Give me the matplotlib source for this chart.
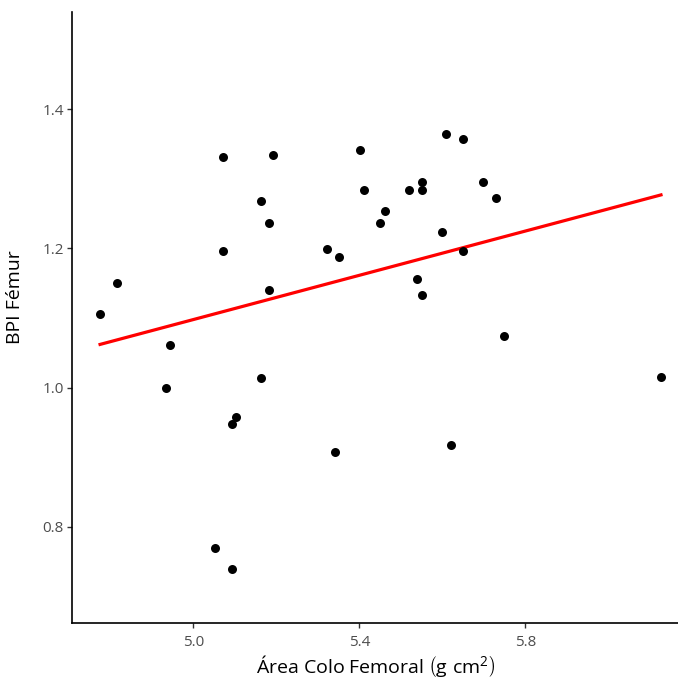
import numpy as np
import matplotlib
matplotlib.use("Agg")
import matplotlib.pyplot as plt

plt.rcParams['font.family'] = ['Open Sans', 'DejaVu Sans']
plt.rcParams['mathtext.fontset'] = 'custom'
plt.rcParams['mathtext.rm'] = 'Open Sans'
plt.rcParams['mathtext.it'] = 'Open Sans:italic'

# femoral neck area vs BPI femur
area = [4.775, 4.815, 4.933, 4.944, 5.052, 5.072, 5.072, 5.093, 5.093, 5.103,
        5.162, 5.162, 5.182, 5.182, 5.193, 5.321, 5.341, 5.352, 5.401, 5.411,
        5.449, 5.461, 5.520, 5.540, 5.551, 5.551, 5.551, 5.600, 5.610, 5.620,
        5.649, 5.649, 5.699, 5.729, 5.749, 6.127]
bpi = [1.106, 1.150, 1.000, 1.061, 0.769, 1.331, 1.196, 0.948, 0.739, 0.958,
       1.268, 1.013, 1.237, 1.140, 1.335, 1.199, 0.908, 1.188, 1.341, 1.284,
       1.237, 1.254, 1.284, 1.156, 1.296, 1.284, 1.133, 1.224, 1.364, 0.917,
       1.357, 1.197, 1.296, 1.272, 1.074, 1.015]

# fitted line (lm) at the data extremes
fit_x = [min(area), max(area)]
fit_y = [1.062, 1.277]

xticks = [5.0, 5.4, 5.8]
yticks = [0.8, 1.0, 1.2, 1.4]

fig = plt.figure(figsize=(6.78, 6.82), dpi=100)
ax = fig.add_axes([0.1066, 0.0861, 0.8934, 0.8963])

ax.scatter(area, bpi, s=42, color='black', zorder=3, linewidths=0)
ax.plot(fit_x, fit_y, color='#FF0000', lw=2.3, zorder=2)

ax.set_xlim(4.708, 6.168)
ax.set_ylim(0.661, 1.540)
ax.set_xticks(xticks)
ax.set_xticklabels([f"{t:.1f}" for t in xticks])
ax.set_yticks(yticks)
ax.set_yticklabels([f"{t:.1f}" for t in yticks])

for s in ['top', 'right']:
    ax.spines[s].set_visible(False)
for s in ['left', 'bottom']:
    ax.spines[s].set_linewidth(1.2)
    ax.spines[s].set_color('black')
ax.tick_params(length=3.5, width=1, color='#333333', labelcolor='#4D4D4D', labelsize=11)
ax.tick_params(axis='x', pad=5)
ax.tick_params(axis='y', pad=2.5)

ax.set_xlabel(r'Área Colo Femoral $\left(\mathrm{g\ cm^2}\right)$', fontsize=14, color='black', labelpad=2)
ax.set_ylabel('BPI Fémur', fontsize=14, color='black')
ax.yaxis.set_label_coords(-0.08, 0.534)

fig.savefig('out.png', dpi=100)
